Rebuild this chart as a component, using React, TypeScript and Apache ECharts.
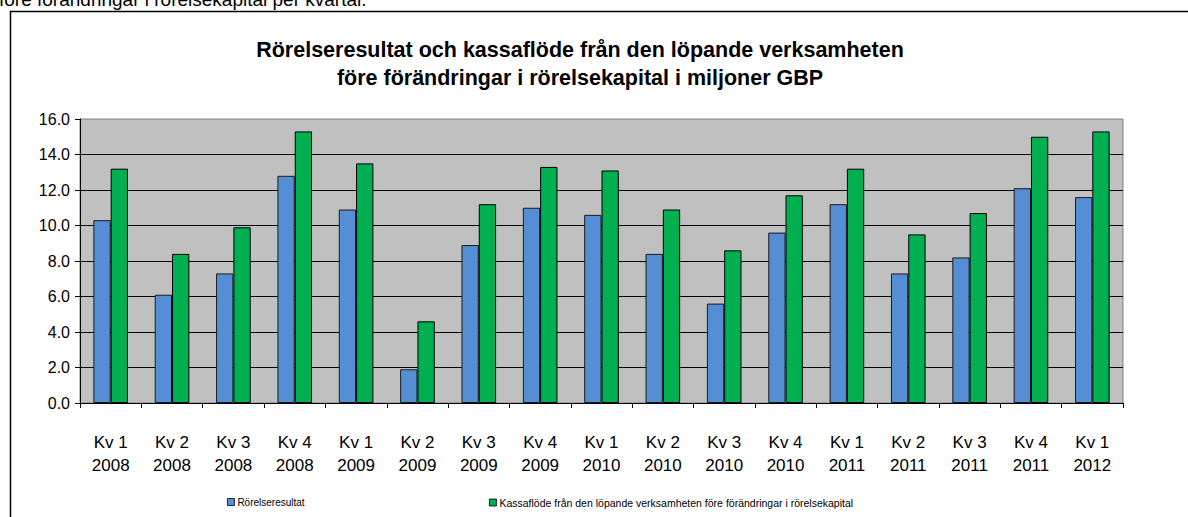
import React, { useEffect, useRef } from "react";
import * as echarts from "echarts";

const categories = [
  "Kv 1\n2008", "Kv 2\n2008", "Kv 3\n2008", "Kv 4\n2008",
  "Kv 1\n2009", "Kv 2\n2009", "Kv 3\n2009", "Kv 4\n2009",
  "Kv 1\n2010", "Kv 2\n2010", "Kv 3\n2010", "Kv 4\n2010",
  "Kv 1\n2011", "Kv 2\n2011", "Kv 3\n2011", "Kv 4\n2011",
  "Kv 1\n2012",
];

const seriesNames = [
  "Rörelseresultat",
  "Kassaflöde från den löpande verksamheten före förändringar i rörelsekapital",
];

const rorelseresultat = [
  10.3, 6.1, 7.3, 12.8, 10.9, 1.9, 8.9, 11.0, 10.6, 8.4, 5.6, 9.6, 11.2, 7.3, 8.2, 12.1, 11.6,
];

const kassaflode = [
  13.2, 8.4, 9.9, 15.3, 13.5, 4.6, 11.2, 13.3, 13.1, 10.9, 8.6, 11.7, 13.2, 9.5, 10.7, 15.0, 15.3,
];

const chartTitle =
  "Rörelseresultat och kassaflöde från den löpande verksamheten\nföre förändringar i rörelsekapital i miljoner GBP";
const topText = "före förändringar i rörelsekapital per kvartal.";

const FONT = "'Liberation Sans', Arial, Helvetica, sans-serif";

export default function App() {
  const ref = useRef<HTMLDivElement>(null);

  useEffect(() => {
    if (!ref.current) return;
    const chart = echarts.init(ref.current, null, { renderer: "svg" });
    chart.setOption({
      animation: false,
      backgroundColor: "#ffffff",
      textStyle: { fontFamily: FONT },
      title: {
        text: chartTitle,
        left: 575,
        top: 31,
        textAlign: "center",
        textStyle: {
          fontFamily: FONT,
          fontSize: 21.5,
          fontWeight: "bold",
          color: "#000000",
          lineHeight: 28,
        },
      },
      graphic: [
        {
          type: "rect",
          shape: { x: 10.5, y: 11.5, width: 1200, height: 520 },
          style: { fill: "none", stroke: "#000000", lineWidth: 1.5 },
          silent: true,
        },
        {
          type: "text",
          x: -1,
          y: -0.5,
          style: {
            text: topText,
            font: `19px ${FONT}`,
            fill: "#000000",
            verticalAlign: "middle",
          },
          silent: true,
        },
      ],
      legend: [
        {
          data: [seriesNames[0]],
          left: 222,
          top: 492,
          itemWidth: 7,
          itemHeight: 7,
          itemGap: 4,
          icon: "rect",
          textStyle: { fontFamily: FONT, fontSize: 10, color: "#000000", padding: [0, 0, 0, -2] },
          itemStyle: { borderColor: "#000000", borderWidth: 0.8 },
        },
        {
          data: [seriesNames[1]],
          left: 484,
          top: 492,
          itemWidth: 7,
          itemHeight: 7,
          itemGap: 4,
          icon: "rect",
          textStyle: { fontFamily: FONT, fontSize: 10.5, color: "#000000", padding: [0, 0, 0, -2] },
          itemStyle: { borderColor: "#000000", borderWidth: 0.8 },
        },
      ],
      grid: {
        left: 80,
        right: 65,
        top: 119,
        bottom: 114,
        show: true,
        backgroundColor: "#C0C0C0",
        borderColor: "#808080",
        borderWidth: 1,
      },
      xAxis: {
        type: "category",
        data: categories,
        boundaryGap: true,
        axisLine: { show: true, lineStyle: { color: "#000000", width: 1 } },
        axisTick: { show: true, length: 5, alignWithLabel: false, lineStyle: { color: "#000000" } },
        axisLabel: {
          fontFamily: FONT,
          fontSize: 17,
          color: "#000000",
          lineHeight: 23,
          margin: 28,
          interval: 0,
        },
        splitLine: { show: false },
      },
      yAxis: {
        type: "value",
        min: 0,
        max: 16,
        interval: 2,
        axisLine: { show: true, lineStyle: { color: "#000000", width: 1 } },
        axisTick: { show: true, length: 5, lineStyle: { color: "#000000" } },
        axisLabel: {
          fontFamily: FONT,
          fontSize: 16,
          color: "#000000",
          margin: 10,
          formatter: (v: number) => v.toFixed(1),
        },
        splitLine: {
          show: true,
          showMaxLine: false,
          showMinLine: false,
          lineStyle: { color: "#000000", width: 1 },
        },
      },
      series: [
        {
          name: seriesNames[0],
          type: "bar",
          data: rorelseresultat,
          barWidth: 17.3,
          barGap: "0%",
          itemStyle: { color: "#558ED5", borderColor: "#1a1a1a", borderWidth: 1 },
        },
        {
          name: seriesNames[1],
          type: "bar",
          data: kassaflode,
          barWidth: 17.3,
          barGap: "0%",
          itemStyle: { color: "#00B050", borderColor: "#000000", borderWidth: 1 },
        },
      ],
    });
    return () => chart.dispose();
  }, []);

  return (
    <div
      ref={ref}
      style={{ position: "absolute", left: 0, top: 0, width: 1188, height: 517 }}
    />
  );
}
